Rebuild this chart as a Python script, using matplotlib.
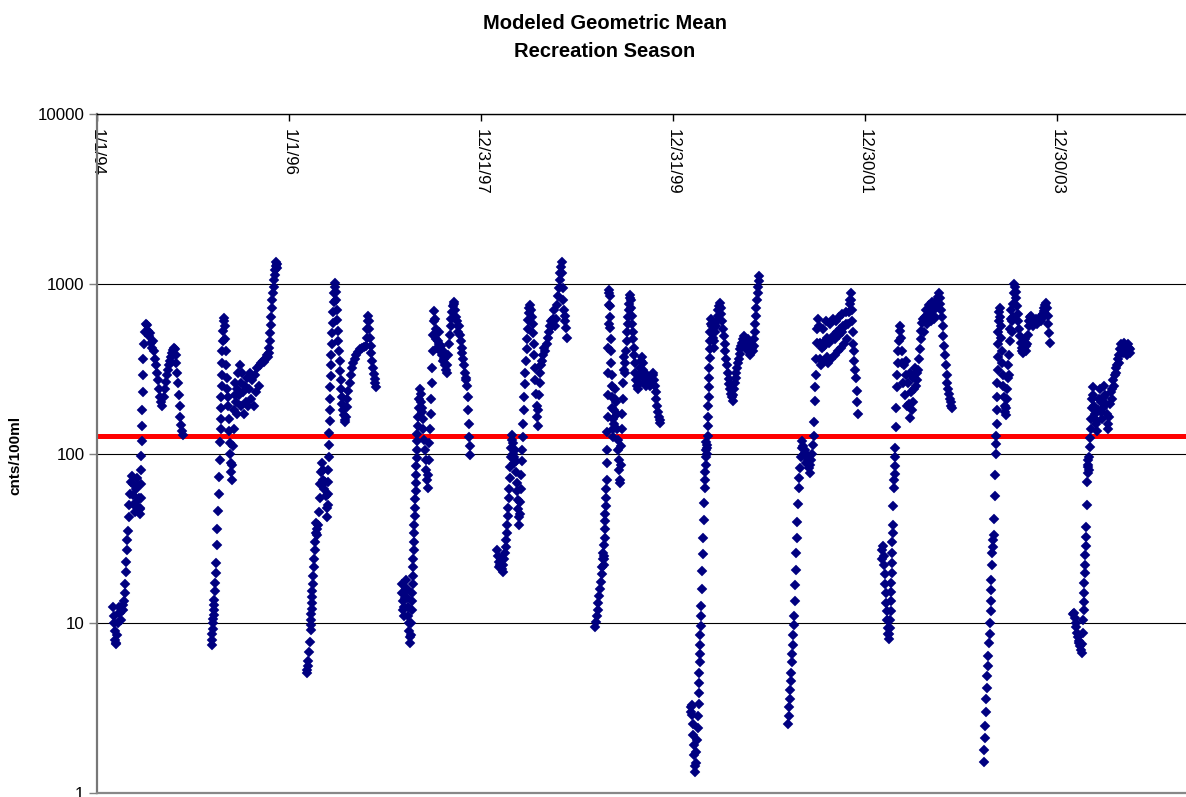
import numpy as np
import matplotlib
matplotlib.use('Agg')
from matplotlib import pyplot as plt
from matplotlib.ticker import NullLocator

plt.rcParams['font.family'] = ['Liberation Sans', 'DejaVu Sans']

# modeled geometric mean (cnts/100ml), day of year and value for each season
d94 = [61, 63, 65, 67, 69, 71, 73, 76, 79, 82, 85, 88, 91, 94, 97, 100, 103, 105, 107, 109, 111, 113, 115, 117, 120, 123, 126, 129, 132, 135, 138, 141, 144, 147, 150, 153, 156, 159, 162, 164, 165, 166, 167, 168, 169, 170, 171, 172, 173, 174, 176, 178, 181, 185, 189, 193, 197, 201, 205, 209, 213, 217, 221, 225, 229, 233, 237, 241, 245, 249, 253, 257, 261, 265, 269, 273, 277, 281, 285, 289, 293, 296, 299, 302, 305, 308, 311, 314, 317, 320, 323, 326]
v94 = [12.5, 11, 10, 9, 8, 7.5, 7.7, 8.5, 10, 11.5, 12.5, 11.5, 10.5, 12, 12.8, 12, 13.5, 15, 17, 20, 23, 27, 31, 35, 42, 50, 58, 68, 74, 66, 57, 50, 45, 52, 62, 72, 64, 55, 48, 44, 47, 55, 66, 80, 97, 118, 145, 180, 230, 290, 360, 440, 520, 580, 570, 530, 490, 510, 450, 420, 460, 400, 360, 330, 300, 270, 240, 215, 200, 190, 215, 240, 265, 290, 310, 330, 350, 370, 390, 405, 420, 410, 380, 340, 300, 260, 220, 190, 165, 148, 135, 128]

d95 = [72, 73, 74, 75, 76, 77, 78, 79, 80, 81, 83, 85, 87, 89, 91, 93, 95, 97, 99, 101, 103, 105, 106, 107, 108, 109, 110, 111, 112, 113, 114, 116, 118, 120, 122, 124, 126, 128, 130, 132, 134, 136, 138, 140, 142, 144, 146, 148, 150, 152, 154, 156, 158, 160, 163, 166, 169, 172, 175, 178, 181, 184, 187, 190, 194, 198, 202, 206, 210, 214, 218, 222, 226, 230, 235, 240, 245, 250, 255, 260, 265, 270, 275, 280, 285, 288, 290, 292, 294, 296, 298, 300, 302, 304, 306, 308, 310, 312, 314, 316, 318, 320]
v95 = [7.4, 8.0, 8.7, 9.3, 10, 10.6, 11.2, 12, 12.8, 13.7, 15.5, 17.2, 19.7, 22.5, 28.9, 36, 46, 58, 73, 92, 117, 140, 160, 185, 215, 250, 290, 340, 400, 460, 530, 600, 630, 560, 470, 400, 330, 280, 240, 215, 190, 160, 135, 115, 100, 88, 78, 70, 85, 110, 140, 180, 220, 260, 200, 170, 240, 300, 220, 330, 260, 190, 300, 230, 170, 250, 200, 280, 190, 240, 300, 210, 270, 190, 290, 230, 320, 250, 330, 340, 350, 345, 360, 380, 370, 390, 420, 460, 510, 570, 640, 720, 800, 880, 960, 1050, 1130, 1200, 1280, 1350, 1300, 1230]

d96 = [68, 70, 72, 74, 77, 80, 82, 83, 84, 85, 86, 87, 88, 89, 90, 92, 94, 96, 98, 100, 102, 104, 106, 108, 110, 113, 116, 119, 122, 125, 128, 131, 134, 137, 140, 143, 145, 147, 148, 149, 150, 151, 152, 153, 154, 155, 156, 157, 158, 159, 160, 162, 164, 166, 168, 170, 172, 174, 176, 178, 180, 182, 184, 186, 188, 190, 192, 194, 196, 198, 200, 202, 205, 208, 211, 213, 216, 219, 222, 226, 230, 235, 240, 245, 250, 256, 262, 270, 278, 286, 292, 295, 297, 299, 301, 303, 305, 307, 310, 313, 316, 319, 322, 325, 328, 331]
v96 = [5.1, 5.3, 5.6, 6.0, 6.8, 7.8, 9.1, 9.8, 10.5, 11.3, 12.2, 13.2, 14.3, 15.5, 17, 19, 21.5, 24, 27, 30, 34, 39, 36, 33, 38, 45, 55, 66, 78, 88, 80, 70, 62, 68, 56, 48, 42, 50, 58, 68, 80, 95, 112, 132, 155, 180, 210, 245, 285, 330, 380, 440, 510, 590, 680, 780, 880, 960, 1010, 900, 800, 700, 610, 530, 460, 400, 350, 305, 270, 240, 215, 195, 180, 168, 158, 153, 165, 187, 210, 235, 260, 290, 320, 340, 360, 380, 395, 410, 420, 425, 430, 480, 540, 600, 650, 600, 540, 480, 430, 390, 350, 320, 295, 275, 260, 248]

d97 = [63, 65, 67, 69, 71, 73, 75, 77, 79, 81, 83, 85, 87, 89, 91, 93, 95, 97, 99, 101, 102, 103, 104, 105, 106, 107, 108, 109, 110, 111, 112, 113, 114, 115, 116, 117, 118, 119, 120, 121, 122, 124, 126, 128, 130, 132, 134, 136, 138, 140, 142, 144, 147, 150, 153, 156, 159, 162, 164, 166, 168, 170, 172, 174, 176, 178, 180, 182, 184, 186, 188, 191, 194, 197, 200, 203, 206, 209, 212, 215, 218, 221, 224, 227, 230, 233, 236, 239, 242, 245, 248, 251, 254, 257, 260, 263, 266, 269, 272, 275, 278, 281, 284, 287, 290, 293, 296, 299, 302, 305, 308, 311, 313, 315, 317, 319, 321, 323]
v97 = [17, 15, 13.5, 12, 11, 12.5, 14, 16, 18, 16, 14, 12.5, 11, 10, 9, 8.3, 7.6, 8.5, 10, 12, 13.5, 15, 17, 19, 21.5, 24, 27, 30, 34, 38, 43, 48, 54, 60, 67, 75, 84, 94, 105, 118, 130, 145, 165, 185, 210, 240, 225, 200, 185, 175, 160, 140, 120, 105, 92, 80, 70, 63, 75, 92, 115, 140, 170, 210, 260, 320, 400, 500, 600, 690, 620, 540, 470, 420, 460, 520, 440, 400, 430, 380, 350, 400, 360, 330, 310, 297, 330, 380, 440, 500, 560, 620, 680, 740, 780, 760, 700, 640, 600, 560, 520, 560, 500, 460, 420, 390, 360, 330, 300, 280, 270, 250, 215, 180, 150, 125, 110, 98]

d98 = [60, 63, 66, 69, 72, 75, 78, 81, 84, 87, 90, 92, 94, 96, 98, 100, 102, 104, 106, 108, 110, 112, 114, 116, 118, 120, 122, 124, 126, 128, 130, 132, 134, 136, 138, 140, 142, 144, 146, 148, 150, 152, 154, 156, 158, 160, 162, 164, 166, 168, 170, 172, 174, 176, 178, 180, 183, 186, 189, 192, 195, 198, 200, 202, 204, 206, 208, 210, 212, 214, 216, 219, 222, 225, 228, 232, 236, 240, 244, 248, 252, 256, 260, 264, 268, 272, 276, 280, 284, 288, 292, 295, 298, 301, 304, 306, 308, 310, 312, 314, 317, 320, 323, 326]
v98 = [27, 25, 23, 21.5, 22, 24, 21, 20, 22, 24, 26, 28, 31, 34, 38, 43, 48, 55, 62, 72, 83, 95, 108, 120, 128, 115, 100, 88, 95, 105, 90, 78, 67, 60, 53, 47, 42, 38, 44, 52, 62, 75, 90, 105, 125, 150, 180, 215, 255, 300, 350, 410, 470, 540, 610, 670, 720, 750, 700, 640, 580, 510, 440, 380, 320, 270, 225, 190, 165, 145, 180, 220, 260, 300, 330, 350, 380, 420, 400, 440, 480, 520, 560, 600, 560, 620, 700, 560, 620, 750, 850, 950, 1050, 1150, 1250, 1340, 1150, 950, 800, 700, 600, 650, 550, 480]

d99 = [68, 71, 74, 77, 80, 83, 86, 89, 92, 94, 96, 98, 100, 101, 102, 103, 104, 105, 106, 107, 108, 109, 110, 111, 112, 113, 114, 115, 116, 117, 118, 119, 120, 121, 122, 123, 124, 125, 126, 127, 128, 129, 130, 131, 132, 133, 134, 135, 137, 139, 141, 143, 145, 147, 149, 151, 153, 155, 157, 159, 161, 163, 165, 167, 169, 171, 173, 175, 177, 179, 181, 183, 185, 187, 189, 191, 193, 195, 197, 199, 201, 203, 205, 207, 209, 211, 213, 215, 217, 219, 221, 224, 227, 230, 233, 236, 239, 242, 245, 248, 251, 254, 257, 260, 263, 266, 270, 274, 278, 282, 286, 289, 292, 295, 298, 301, 304, 307, 310, 313, 316]
v99 = [9.5, 10.2, 11, 12, 13.2, 14.5, 16, 17.5, 19.5, 21.5, 24, 26, 24, 22, 25, 29, 32, 36, 40, 44, 49, 55, 62, 70, 88, 105, 134, 165, 220, 300, 420, 580, 750, 880, 920, 850, 740, 640, 550, 470, 400, 340, 290, 250, 215, 185, 160, 140, 125, 150, 180, 210, 240, 200, 170, 140, 120, 105, 92, 80, 70, 67, 85, 110, 140, 170, 210, 260, 310, 370, 300, 340, 400, 460, 520, 580, 640, 700, 760, 820, 860, 800, 720, 650, 580, 520, 470, 420, 380, 340, 300, 270, 250, 240, 260, 290, 320, 350, 370, 340, 310, 280, 260, 250, 270, 290, 280, 260, 250, 270, 300, 290, 270, 250, 230, 210, 190, 175, 165, 158, 152]

d00 = [66, 68, 70, 72, 74, 76, 78, 80, 82, 84, 86, 88, 90, 92, 94, 96, 97, 98, 99, 100, 101, 102, 103, 104, 105, 106, 108, 110, 112, 114, 116, 118, 120, 121, 122, 123, 124, 125, 126, 127, 128, 129, 130, 131, 132, 133, 134, 135, 136, 137, 138, 139, 140, 141, 142, 144, 147, 150, 153, 156, 159, 162, 165, 168, 171, 174, 177, 180, 183, 186, 189, 192, 195, 198, 201, 204, 207, 210, 213, 216, 219, 222, 225, 228, 231, 234, 237, 240, 243, 246, 249, 252, 255, 258, 261, 264, 267, 270, 273, 276, 279, 282, 285, 288, 291, 294, 297, 300, 303, 306, 308, 310, 312, 314, 316, 318, 320, 322, 324, 326]
v00 = [3.2, 3.0, 3.3, 2.9, 2.55, 2.2, 1.92, 1.67, 1.45, 1.33, 1.5, 1.75, 2.05, 2.4, 2.85, 3.35, 3.9, 4.45, 5.1, 5.9, 6.6, 7.4, 8.5, 9.6, 11, 12.6, 16, 20.3, 25.5, 31.7, 40.6, 51.4, 63, 70, 78, 86, 95, 105, 117, 108, 100, 112, 126, 145, 165, 190, 215, 245, 280, 320, 365, 410, 460, 520, 580, 620, 560, 480, 420, 460, 520, 560, 600, 650, 700, 740, 770, 720, 660, 600, 540, 490, 440, 400, 360, 330, 300, 275, 255, 240, 225, 215, 205, 220, 240, 260, 280, 300, 320, 340, 360, 385, 410, 430, 450, 470, 490, 460, 430, 410, 440, 470, 430, 400, 380, 410, 440, 420, 400, 430, 470, 520, 580, 650, 720, 800, 880, 960, 1040, 1110]

d01 = [70, 72, 74, 76, 78, 80, 82, 84, 86, 88, 90, 92, 94, 96, 98, 100, 102, 104, 106, 108, 110, 113, 116, 119, 122, 125, 128, 131, 134, 137, 140, 143, 146, 149, 152, 155, 158, 161, 164, 167, 170, 172, 174, 176, 178, 180, 182, 184, 187, 190, 193, 196, 199, 202, 205, 208, 211, 214, 217, 220, 223, 226, 229, 232, 235, 238, 241, 244, 247, 250, 253, 256, 259, 262, 265, 268, 271, 274, 277, 280, 283, 286, 289, 292, 295, 298, 301, 304, 306, 308, 310, 312, 314, 316, 318, 320, 322, 325, 328, 331, 334, 337]
v01 = [2.55, 2.85, 3.2, 3.6, 4.05, 4.55, 5.1, 5.9, 6.6, 7.4, 8.5, 9.8, 11, 13.6, 16.8, 20.7, 26, 32, 39.6, 50.3, 63, 72, 82, 95, 108, 118, 110, 100, 105, 95, 88, 98, 90, 82, 77, 85, 92, 100, 112, 126, 154, 203, 245, 290, 360, 450, 540, 620, 560, 450, 360, 330, 420, 540, 430, 350, 460, 600, 480, 370, 340, 450, 580, 470, 360, 480, 620, 500, 380, 470, 600, 520, 400, 500, 640, 540, 420, 520, 660, 560, 440, 560, 680, 580, 470, 580, 680, 760, 800, 880, 800, 700, 600, 520, 440, 400, 350, 310, 280, 233, 200, 170]

d02 = [62, 64, 66, 68, 70, 72, 74, 76, 78, 80, 82, 84, 86, 88, 90, 92, 94, 95, 96, 97, 98, 99, 100, 101, 102, 103, 104, 106, 108, 109, 110, 111, 112, 113, 115, 117, 119, 121, 123, 125, 127, 129, 131, 134, 137, 140, 143, 146, 149, 152, 155, 158, 161, 164, 167, 170, 173, 176, 179, 182, 185, 188, 191, 194, 197, 200, 203, 206, 209, 212, 215, 218, 221, 224, 227, 230, 233, 236, 239, 242, 245, 248, 251, 254, 257, 260, 263, 266, 269, 272, 275, 278, 281, 284, 287, 290, 293, 296, 299, 302, 305, 308, 311, 314, 317, 320, 323, 326, 329]
v02 = [24, 27, 28.5, 25, 22, 19.5, 17, 15, 13.2, 11.8, 10.5, 9.4, 8.6, 8.1, 8.6, 9.4, 10.5, 11.8, 13.6, 15.3, 17.2, 19.8, 22.7, 26, 30, 33.8, 38, 49, 63, 70, 76, 84, 96, 108, 144, 185, 245, 290, 340, 400, 460, 530, 560, 480, 400, 340, 260, 330, 220, 350, 290, 190, 260, 195, 300, 162, 230, 180, 280, 200, 240, 320, 250, 300, 270, 310, 360, 410, 470, 530, 590, 620, 520, 640, 600, 700, 580, 660, 640, 750, 660, 600, 700, 780, 700, 620, 640, 740, 720, 800, 830, 880, 820, 760, 700, 640, 560, 490, 430, 380, 330, 290, 260, 240, 225, 210, 200, 190, 185]

d03 = [84, 86, 88, 90, 92, 94, 96, 98, 100, 102, 104, 106, 108, 110, 111, 112, 113, 114, 116, 118, 120, 122, 124, 126, 128, 130, 131, 132, 133, 134, 135, 136, 137, 138, 139, 140, 141, 143, 145, 147, 149, 151, 153, 155, 157, 159, 161, 163, 165, 167, 169, 171, 173, 175, 177, 179, 181, 183, 185, 187, 189, 191, 193, 195, 197, 199, 201, 203, 205, 207, 210, 213, 216, 219, 222, 225, 228, 231, 234, 237, 240, 243, 246, 249, 252, 255, 258, 261, 264, 267, 270, 273, 276, 279, 282, 285, 288, 291, 294, 297, 300, 303, 306, 309, 312, 315, 318, 321, 324, 327, 330, 333, 336]
v03 = [1.52, 1.79, 2.1, 2.48, 3.0, 3.6, 4.15, 4.9, 5.6, 6.45, 7.6, 8.7, 10, 11.8, 13.6, 15.7, 18, 22, 26, 31, 28, 33, 41, 56, 75, 99, 114, 127, 150, 180, 215, 260, 310, 370, 440, 520, 600, 680, 720, 640, 560, 480, 400, 340, 290, 250, 215, 190, 175, 168, 185, 210, 240, 280, 330, 290, 380, 460, 540, 620, 700, 600, 520, 640, 760, 880, 1000, 960, 900, 820, 740, 660, 600, 540, 490, 450, 420, 400, 390, 420, 470, 430, 400, 440, 500, 560, 600, 640, 650, 620, 580, 560, 580, 600, 620, 600, 580, 600, 620, 640, 620, 600, 630, 660, 690, 720, 750, 770, 720, 650, 580, 510, 450]

d04 = [59, 62, 65, 68, 71, 74, 77, 80, 83, 86, 89, 92, 94, 96, 98, 99, 100, 101, 102, 103, 104, 105, 106, 107, 108, 110, 112, 114, 115, 116, 117, 118, 120, 122, 124, 126, 128, 130, 132, 134, 136, 139, 142, 145, 148, 151, 154, 157, 160, 163, 166, 169, 172, 175, 178, 181, 184, 187, 190, 193, 196, 199, 202, 205, 208, 211, 214, 217, 220, 223, 226, 229, 232, 235, 238, 241, 244, 247, 250, 253, 256, 259, 262, 265, 268, 271, 274, 277]
v04 = [11.3, 11.5, 10.8, 10, 9.5, 8.8, 8.3, 7.9, 7.6, 7.3, 7.0, 6.7, 7.5, 8.8, 10.4, 12, 13.4, 15.1, 17.2, 19.7, 22, 25.3, 28.5, 32.4, 36.7, 49.8, 68, 76.5, 83.5, 91.5, 86, 80, 95, 109, 123, 140, 160, 185, 210, 245, 220, 190, 170, 150, 135, 155, 180, 210, 240, 200, 175, 160, 185, 215, 250, 220, 195, 170, 150, 140, 165, 195, 230, 210, 240, 270, 250, 290, 320, 300, 330, 360, 340, 380, 410, 440, 420, 390, 420, 445, 430, 400, 380, 410, 440, 420, 390, 410]

seasons = [(1994, d94, v94), (1995, d95, v95), (1996, d96, v96), (1997, d97, v97),
           (1998, d98, v98), (1999, d99, v99), (2000, d00, v00), (2001, d01, v01),
           (2002, d02, v02), (2003, d03, v03), (2004, d04, v04)]

standard = 126
tick_labels = ['1/1/94', '1/1/96', '12/31/97', '12/31/99', '12/30/01', '12/30/03']
y_ticks = [1, 10, 100, 1000, 10000]

W, H = 1186, 797
fig = plt.figure(figsize=(W / 100, H / 100), dpi=100)
ax = fig.add_axes([97 / W, 4 / H, 1 - 97 / W, 679 / H])

navy = '#000080'
for year, days, vals in seasons:
    dates = np.datetime64(f'{year}-01-01') + np.array(days).astype('timedelta64[D]')
    ax.plot(dates, vals, linestyle='none', marker='D', markersize=4.8,
            color=navy, markeredgecolor=navy, markeredgewidth=0.3, zorder=3)

ax.axhline(standard, color='#ff0000', linewidth=3.6, zorder=2)

ax.set_yscale('log')
ax.set_ylim(1, 10000)
start = np.datetime64('1994-01-01')
ax.set_xlim(start, start + np.timedelta64(4140, 'D'))

ax.set_yticks(y_ticks)
ax.set_yticklabels([str(t) for t in y_ticks])
ax.yaxis.set_minor_locator(NullLocator())
ax.tick_params(axis='y', direction='out', length=6, width=1, color='#808080',
               labelsize=12.2, pad=3)

ax.set_xticks(start + np.arange(len(tick_labels)) * np.timedelta64(730, 'D'))
ax.set_xticklabels(tick_labels)
ax.xaxis.set_minor_locator(NullLocator())
ax.tick_params(axis='x', top=True, bottom=False, labeltop=True, labelbottom=False,
               direction='in', length=5, width=1, color='black',
               labelsize=12.2, labelrotation=-90, pad=-11)
for lbl in ax.get_xticklabels():
    lbl.set_va('top')

ax.yaxis.grid(True, color='black', linewidth=0.8)
ax.set_axisbelow(True)

ax.spines['right'].set_visible(False)
ax.spines['top'].set_color('black')
ax.spines['top'].set_linewidth(1.0)
ax.spines['left'].set_color('#777777')
ax.spines['left'].set_linewidth(1.6)
ax.spines['bottom'].set_color('#888888')
ax.spines['bottom'].set_linewidth(1.6)

fig.text(605 / W, 1 - 29 / H, 'Modeled Geometric Mean', ha='center', va='baseline',
         fontsize=14.5, fontweight='bold')
fig.text(605 / W, 1 - 57 / H, 'Recreation Season', ha='center', va='baseline',
         fontsize=14.5, fontweight='bold')
fig.text(15 / W, 1 - 455 / H, 'cnts/100ml', rotation=90, ha='center', va='center',
         fontsize=11, fontweight='bold')

fig.savefig('out.png', dpi=100)
